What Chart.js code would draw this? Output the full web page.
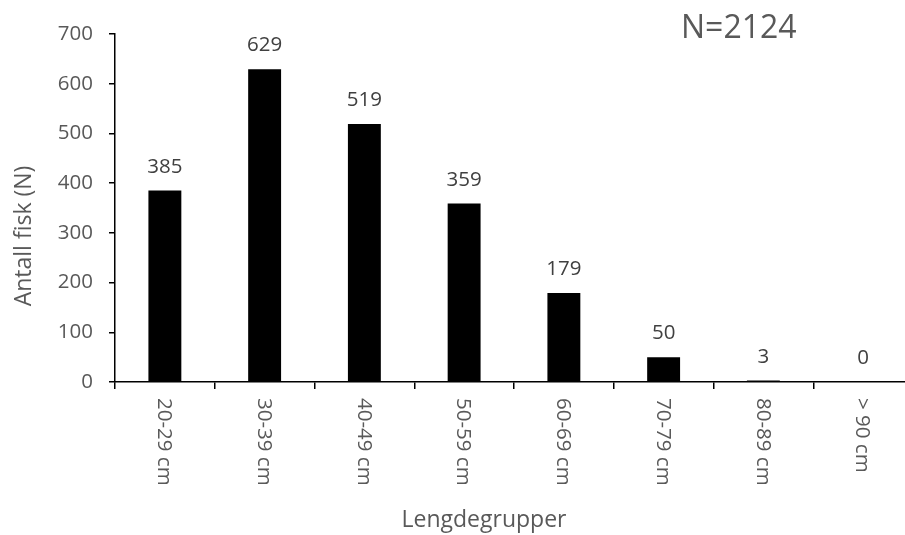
<!DOCTYPE html>
<html>
<head>
<meta charset="utf-8">
<script src="https://cdn.jsdelivr.net/npm/chart.js@4"></script>
<style>
  html, body { margin: 0; padding: 0; background: #fff; overflow: hidden; }
  #wrap { position: relative; width: 913px; height: 535px; }
</style>
</head>
<body>
<div id="wrap"><canvas id="c"></canvas></div>
<script>
const categories = ["20-29 cm", "30-39 cm", "40-49 cm", "50-59 cm", "60-69 cm", "70-79 cm", "80-89 cm", "> 90 cm"];
const counts = [385, 629, 519, 359, 179, 50, 3, 0];
const yTicks = [0, 100, 200, 300, 400, 500, 600, 700];
const xTitle = "Lengdegrupper";
const yTitle = "Antall fisk (N)";
const note = "N=2124";

const FONT = "'Open Sans', 'Noto Sans', sans-serif";

const textPlugin = {
  id: 'textPlugin',
  afterDraw(chart) {
    const ctx = chart.ctx;
    const xs = chart.scales.x;
    const ys = chart.scales.y;
    ctx.save();
    // data labels
    const meta = chart.getDatasetMeta(0);
    ctx.fillStyle = '#404040';
    ctx.font = '20.5px ' + FONT;
    ctx.textAlign = 'center';
    ctx.textBaseline = 'alphabetic';
    meta.data.forEach((bar, i) => {
      ctx.fillText(String(counts[i]), bar.x, bar.y - 18);
    });
    // x tick labels rotated clockwise
    ctx.fillStyle = '#595959';
    categories.forEach((lab, i) => {
      const x = xs.getPixelForTick(i);
      ctx.save();
      ctx.translate(x - 1, xs.top + 16);
      ctx.rotate(Math.PI / 2);
      ctx.textAlign = 'left';
      ctx.textBaseline = 'middle';
      ctx.fillText(lab, 0, 0);
      ctx.restore();
    });
    // x title
    ctx.font = '23px ' + FONT;
    ctx.textAlign = 'center';
    ctx.textBaseline = 'alphabetic';
    ctx.fillText(xTitle, 484, 527);
    // y title
    ctx.save();
    ctx.translate(31, 236);
    ctx.rotate(-Math.PI / 2);
    ctx.fillText(yTitle, 0, 0);
    ctx.restore();
    // N label
    ctx.font = '32px ' + FONT;
    ctx.textAlign = 'left';
    ctx.fillText(note, 681, 38);
    ctx.restore();
  }
};

new Chart(document.getElementById('c'), {
  type: 'bar',
  data: {
    labels: categories,
    datasets: [{
      data: counts,
      backgroundColor: '#000000',
      borderWidth: 0,
      categoryPercentage: 1.0,
      barPercentage: 0.33
    }]
  },
  options: {
    responsive: true,
    maintainAspectRatio: false,
    animation: false,
    events: [],
    layout: { padding: { top: 34, left: 0, right: 0, bottom: 0 } },
    plugins: {
      legend: { display: false },
      tooltip: { enabled: false },
      title: { display: false }
    },
    scales: {
      x: {
        offset: true,
        grid: {
          display: true,
          offset: true,
          drawOnChartArea: false,
          drawTicks: true,
          tickLength: 7,
          color: '#000000',
          lineWidth: 1.5
        },
        border: { display: true, color: '#000000', width: 1.5 },
        ticks: { display: false },
        afterFit(scale) { scale.height = 153; }
      },
      y: {
        min: 0,
        max: 700,
        afterBuildTicks(scale) { scale.ticks = yTicks.map(v => ({ value: v })); },
        grid: {
          display: true,
          drawOnChartArea: false,
          drawTicks: true,
          tickLength: 6,
          color: '#000000',
          lineWidth: 1.5
        },
        border: { display: true, color: '#000000', width: 1.5 },
        ticks: {
          color: '#595959',
          font: { family: FONT, size: 20.5 },
          padding: 16
        },
        afterFit(scale) { scale.width = 115; }
      }
    }
  },
  plugins: [textPlugin]
});
</script>
</body>
</html>
